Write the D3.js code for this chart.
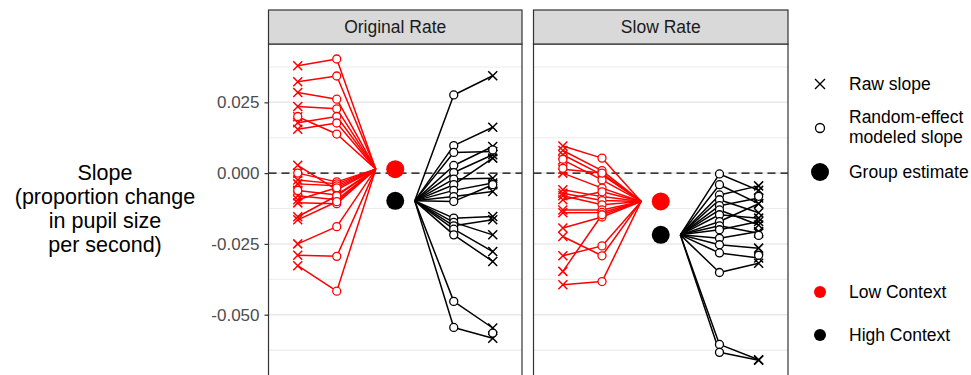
<!DOCTYPE html>
<html>
<head>
<meta charset="utf-8">
<script src="https://cdn.jsdelivr.net/npm/d3@7"></script>
<style>
  html, body { margin: 0; padding: 0; background: #fff; }
  svg { display: block; font-family: "Liberation Sans", Arial, sans-serif; }
</style>
</head>
<body>
<svg id="chart" width="971" height="375"></svg>
<script>
// ---- data -------------------------------------------------------------
const panels = ["Original Rate", "Slow Rate"];
const yTicks = [-0.05, -0.025, 0, 0.025];
const yTickLabels = ["-0.050", "-0.025", "0.000", "0.025"];
const yMinorTicks = [-0.0625, -0.0375, -0.0125, 0.0125, 0.0375];

// group estimates per panel (Original, Slow)
const groupLow = [0.0014, -0.0100];
const groupHigh = [-0.0098, -0.0218];

// Original Rate, Low Context: raw slope and random-effect modeled slope per subject
const origLowRaw = [0.0379, 0.0323, 0.0285, 0.0235, 0.0199, 0.0178, 0.0155,
  0.00275, 0.0, -0.0024, -0.0038, -0.0061, -0.0080, -0.0094, -0.0105, -0.0154, -0.0165, -0.0250, -0.0290, -0.0327];
const origLowModeled = [0.0403, 0.0343, 0.0261, 0.0227, 0.0138, 0.0200, 0.0177,
  -0.0059, -0.0031, -0.0038, -0.0045, -0.0077, -0.0094, -0.0052, -0.0108, -0.0080, -0.0101, -0.0189, -0.0294, -0.0417];
// Original Rate, High Context
const origHighRaw = [0.0344, 0.0162, 0.0076, 0.0094, 0.0065, -0.0018, 0.0053, -0.0035, -0.0065, -0.0041,
  -0.0153, -0.0218, -0.0165, -0.0277, -0.0312, -0.0547, -0.0583];
const origHighModeled = [0.0276, 0.0097, 0.0073, 0.0027, 0.0002, -0.0021, -0.0041, -0.0061, -0.0083, -0.0100,
  -0.0159, -0.0174, -0.0186, -0.0198, -0.0218, -0.0453, -0.0545];
// Slow Rate, Low Context
const slowLowRaw = [0.0096, 0.0080, 0.0065, 0.0047, 0.0014, 0.0, -0.0059, -0.0071, -0.0080, -0.0094,
  -0.0130, -0.0140, -0.0194, -0.0224, -0.0292, -0.0347, -0.0394];
const slowLowModeled = [0.0053, 0.0009, -0.0006, -0.0024, 0.0, -0.0053, -0.0083, -0.0097, -0.0112, -0.0066,
  -0.0130, -0.0139, -0.0155, -0.0292, -0.0257, -0.0147, -0.0383];
// Slow Rate, High Context
const slowHighRaw = [-0.0061, -0.0108, -0.0045, -0.0140, -0.0088, -0.0183, -0.0159, -0.0108, -0.0212, -0.0171,
  -0.0206, -0.0265, -0.0300, -0.0318, -0.0659, -0.0661];
const slowHighModeled = [-0.0003, -0.0041, -0.0077, -0.0094, -0.0115, -0.0130, -0.0147, -0.0171, -0.0186, -0.0200,
  -0.0230, -0.0253, -0.0282, -0.0351, -0.0605, -0.0633];
// raw slopes drawn with an open marker
const origLowRawOpen = [0.0200, 0.0, -0.0061];
const origHighRawOpen = [0.0082, -0.0041, -0.0565];
const slowLowRawOpen = [0.0049, 0.0017];
const slowHighRawOpen = [-0.0082, -0.0220, -0.0290];

const groups = ["Low Context", "High Context"];
const groupColors = ["#ff0000", "#000000"];

// column positions along the panel's x axis
const colPos = { lowRaw: -2.5, lowModeled: -1.5, lowHub: -0.5, estimate: 0, highHub: 0.5, highModeled: 1.5, highRaw: 2.5 };

// ---- layout -------------------------------------------------------------
const svg = d3.select("#chart");
const panelX = [[268.5, 522], [533.5, 788]];
const plotTop = 44, plotBottom = 376, stripTop = 10;

const y = d3.scaleLinear().domain([-0.0713, 0.0456]).range([375, 44]);

const panelData = [
  { low: [origLowRaw, origLowModeled, origLowRawOpen], high: [origHighRaw, origHighModeled, origHighRawOpen] },
  { low: [slowLowRaw, slowLowModeled, slowLowRawOpen], high: [slowHighRaw, slowHighModeled, slowHighRawOpen] }
];

function xMark(g, cx, cy, s, color, w) {
  g.append("path")
    .attr("d", `M${cx - s},${cy - s}L${cx + s},${cy + s}M${cx - s},${cy + s}L${cx + s},${cy - s}`)
    .attr("stroke", color).attr("stroke-width", w).attr("fill", "none");
}

panels.forEach((name, pi) => {
  const [x0, x1] = panelX[pi];
  const x = d3.scaleLinear().domain([-3.25, 3.25]).range([x0, x1]);
  const g = svg.append("g");

  // clip marks to the panel
  const clipId = "clip" + pi;
  svg.append("clipPath").attr("id", clipId)
    .append("rect").attr("x", x0).attr("y", plotTop).attr("width", x1 - x0).attr("height", plotBottom - plotTop);

  // minor and major grid lines
  g.selectAll(".minor").data(yMinorTicks).join("line")
    .attr("x1", x0).attr("x2", x1).attr("y1", d => y(d)).attr("y2", d => y(d))
    .attr("stroke", "#ebebeb").attr("stroke-width", 1.1);
  g.selectAll(".major").data(yTicks).join("line")
    .attr("x1", x0).attr("x2", x1).attr("y1", d => y(d)).attr("y2", d => y(d))
    .attr("stroke", "#e8e8e8").attr("stroke-width", 1.5);

  // zero reference
  g.append("line").attr("x1", x0).attr("x2", x1).attr("y1", y(0)).attr("y2", y(0))
    .attr("stroke", "#000").attr("stroke-width", 1.4).attr("stroke-dasharray", "8,5");

  const marks = g.append("g").attr("clip-path", `url(#${clipId})`);
  const d = panelData[pi];

  [["low", 0], ["high", 1]].forEach(([key, gi]) => {
    const [raw, modeled, rawOpen] = d[key];
    const color = groupColors[gi];
    const est = gi === 0 ? groupLow[pi] : groupHigh[pi];
    const rawX = x(gi === 0 ? colPos.lowRaw : colPos.highRaw);
    const modX = x(gi === 0 ? colPos.lowModeled : colPos.highModeled);
    const hubX = x(gi === 0 ? colPos.lowHub : colPos.highHub);

    const line = d3.line();
    raw.forEach((r, i) => {
      marks.append("path")
        .attr("d", line([[rawX, y(r)], [modX, y(modeled[i])], [hubX, y(est)]]))
        .attr("fill", "none").attr("stroke", color).attr("stroke-width", 1.5)
        .attr("stroke-linejoin", "round");
    });
    raw.forEach(r => xMark(marks, rawX, y(r), 4.5, color, 1.5));
    rawOpen.forEach(r => {
      marks.append("circle").attr("cx", rawX).attr("cy", y(r)).attr("r", 4)
        .attr("fill", "#fff").attr("stroke", color).attr("stroke-width", 1.3);
    });
    modeled.forEach(m => {
      marks.append("circle").attr("cx", modX).attr("cy", y(m)).attr("r", 4)
        .attr("fill", "#fff").attr("stroke", color).attr("stroke-width", 1.3);
    });
  });

  // group estimates
  marks.append("circle").attr("cx", x(colPos.estimate)).attr("cy", y(groupHigh[pi])).attr("r", 9).attr("fill", groupColors[1]);
  marks.append("circle").attr("cx", x(colPos.estimate)).attr("cy", y(groupLow[pi])).attr("r", 9).attr("fill", groupColors[0]);

  // panel border
  g.append("rect").attr("x", x0).attr("y", plotTop).attr("width", x1 - x0).attr("height", plotBottom - plotTop)
    .attr("fill", "none").attr("stroke", "#333").attr("stroke-width", 1.2);

  // strip
  g.append("rect").attr("x", x0).attr("y", stripTop).attr("width", x1 - x0).attr("height", plotTop - stripTop)
    .attr("fill", "#d9d9d9").attr("stroke", "#333").attr("stroke-width", 1.2);
  g.append("text").attr("x", (x0 + x1) / 2).attr("y", (stripTop + plotTop) / 2 + 6)
    .attr("text-anchor", "middle").attr("font-size", 17.5).attr("fill", "#1a1a1a").text(name);
});

// y axis
const axis = d3.axisLeft(y).tickValues(yTicks).tickSize(4).tickPadding(5)
  .tickFormat((d, i) => yTickLabels[i]);
const axG = svg.append("g").attr("transform", `translate(${panelX[0][0]},0)`).call(axis);
axG.select(".domain").remove();
axG.selectAll(".tick line").attr("stroke", "#333").attr("stroke-width", 1.2);
axG.selectAll(".tick text").attr("fill", "#4d4d4d").attr("font-size", 17)
  .attr("font-family", "Liberation Sans, Arial, sans-serif");

// y title
const titleLines = ["Slope", "(proportion change", "in pupil size", "per second)"];
svg.append("text").attr("text-anchor", "middle").attr("font-size", 21.5).attr("fill", "#000")
  .selectAll("tspan").data(titleLines).join("tspan")
  .attr("x", 105).attr("y", (d, i) => 180 + i * 24).text(d => d);

// legend: marker types
const lg = svg.append("g").attr("font-size", 17.5).attr("fill", "#000");
xMark(lg, 820, 84, 5, "#000", 1.4);
lg.append("text").attr("x", 849).attr("y", 90).text("Raw slope");
lg.append("circle").attr("cx", 820).attr("cy", 128).attr("r", 4.5).attr("fill", "#fff").attr("stroke", "#000").attr("stroke-width", 1.3);
lg.append("text").attr("x", 849).attr("y", 123).text("Random-effect");
lg.append("text").attr("x", 849).attr("y", 143).text("modeled slope");
lg.append("circle").attr("cx", 820).attr("cy", 172).attr("r", 9).attr("fill", "#000");
lg.append("text").attr("x", 849).attr("y", 178).text("Group estimate");

// legend: context colours
groups.forEach((gname, i) => {
  const cy = 292 + i * 43;
  lg.append("circle").attr("cx", 820).attr("cy", cy).attr("r", 6).attr("fill", groupColors[i]);
  lg.append("text").attr("x", 849).attr("y", cy + 6).text(gname);
});
</script>
</body>
</html>
